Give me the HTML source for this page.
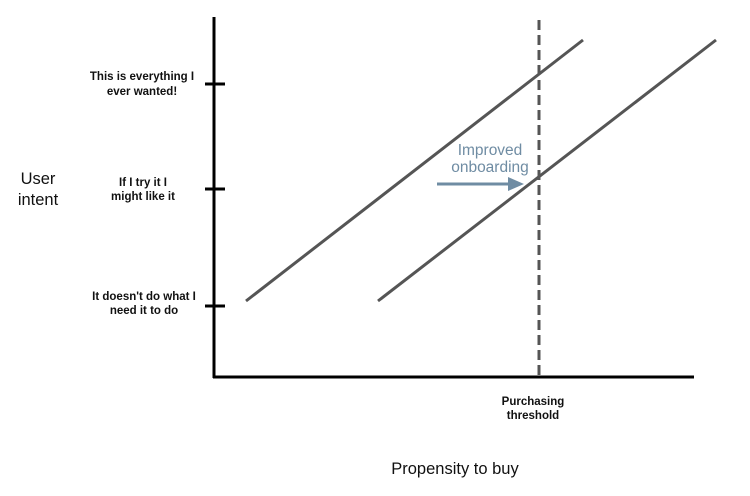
<!DOCTYPE html>
<html><head><style>body{margin:0;background:#fff}</style></head><body>
<svg width="750" height="496" xmlns="http://www.w3.org/2000/svg" style="display:block">
<line x1="214" y1="17" x2="214" y2="378" stroke="#000" stroke-width="3"/>
<line x1="213" y1="377" x2="694" y2="377" stroke="#000" stroke-width="3"/>
<line x1="205" y1="84" x2="225" y2="84" stroke="#000" stroke-width="3"/>
<line x1="205" y1="189" x2="225" y2="189" stroke="#000" stroke-width="3"/>
<line x1="205" y1="306" x2="225" y2="306" stroke="#000" stroke-width="3"/>
<line x1="246" y1="301" x2="583" y2="40" stroke="#555" stroke-width="3"/>
<line x1="378" y1="301" x2="716" y2="40" stroke="#555" stroke-width="3"/>
<line x1="539" y1="20" x2="539" y2="377" stroke="#555" stroke-width="3" stroke-dasharray="10,5"/>
<line x1="437" y1="184" x2="512" y2="184" stroke="#6f8ca3" stroke-width="3"/>
<polygon points="524,184 508,177 508,191" fill="#6f8ca3"/>
<g font-family="Liberation Sans, sans-serif" text-anchor="middle">
<text x="490" y="155" font-size="15.5" fill="#6f8ca3">Improved</text>
<text x="490" y="172" font-size="15.5" fill="#6f8ca3">onboarding</text>
<g font-size="11.5" font-weight="bold" fill="#111">
<text x="142" y="80">This is everything I</text>
<text x="142" y="95">ever wanted!</text>
<text x="143" y="186">If I try it I</text>
<text x="143" y="200">might like it</text>
<text x="144" y="300">It doesn't do what I</text>
<text x="144" y="314">need it to do</text>
<text x="533" y="405">Purchasing</text>
<text x="533" y="419">threshold</text>
</g>
<text x="38" y="184" font-size="16.5" fill="#111">User</text>
<text x="38" y="205" font-size="16.5" fill="#111">intent</text>
<text x="455" y="474" font-size="16.5" fill="#111">Propensity to buy</text>
</g>
</svg>
</body></html>
